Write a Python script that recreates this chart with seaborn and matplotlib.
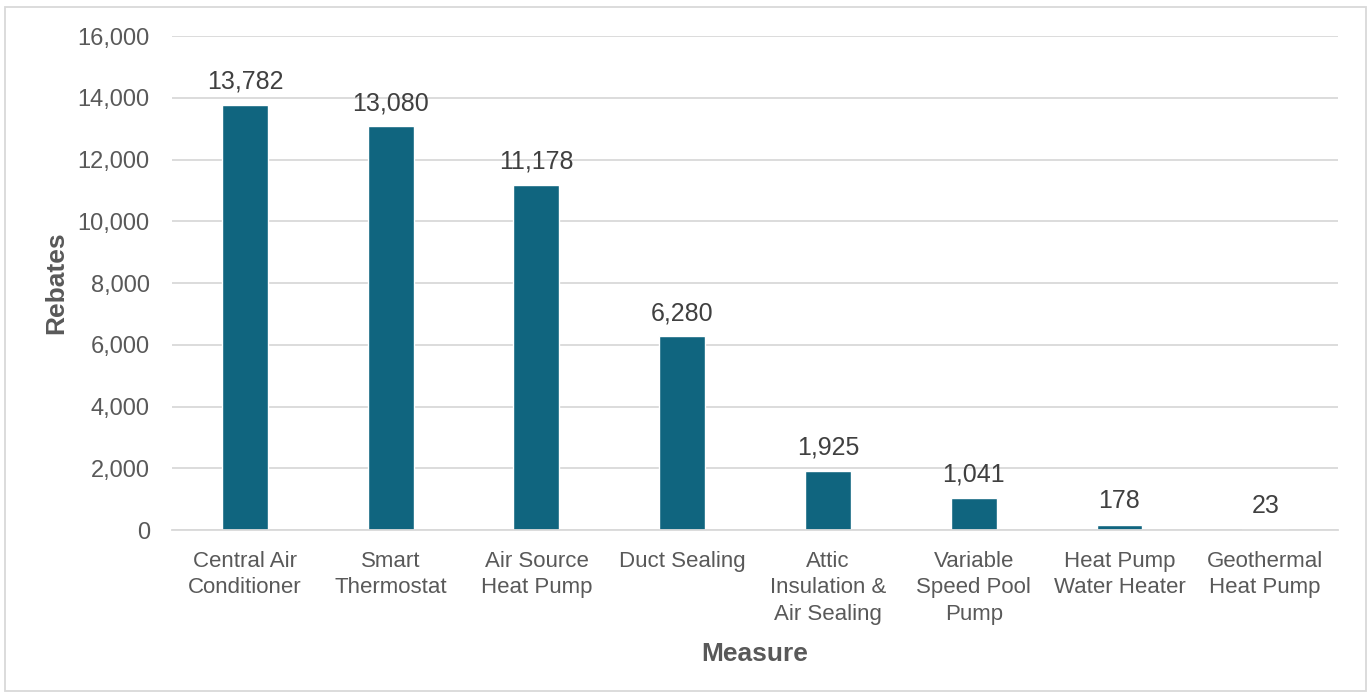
import matplotlib
matplotlib.use("Agg")
import matplotlib.pyplot as plt
import seaborn as sns
import pandas as pd
from matplotlib.patches import Rectangle
from matplotlib.ticker import FuncFormatter

measures = [
    "Central Air\nConditioner",
    "Smart\nThermostat",
    "Air Source\nHeat Pump",
    "Duct Sealing",
    "Attic\nInsulation &\nAir Sealing",
    "Variable\nSpeed Pool\nPump",
    "Heat Pump\nWater Heater",
    "Geothermal\nHeat Pump",
]
rebates = [13782, 13080, 11178, 6280, 1925, 1041, 178, 23]

df = pd.DataFrame({"Measure": measures, "Rebates": rebates})

sns.set_theme(style="whitegrid")
plt.rcParams["font.family"] = ["Liberation Sans", "DejaVu Sans"]

text_col = "#595959"
bar_col = "#10657f"

fig = plt.figure(figsize=(13.71, 6.94), dpi=100)
ax = fig.add_axes([0.1255, 0.2363, 0.8505, 0.7117])

sns.barplot(data=df, x="Measure", y="Rebates", color=bar_col, width=0.315,
            saturation=1, ax=ax)

ax.set_ylim(0, 16000)
ax.set_yticks(range(0, 16001, 2000))
ax.yaxis.set_major_formatter(FuncFormatter(lambda v, p: f"{int(v):,}"))
ax.set_xlim(-0.5, len(measures) - 0.5)

ax.grid(axis="y", color="#d9d9d9", linewidth=1.3)
ax.grid(axis="x", visible=False)
ax.set_axisbelow(True)
for s in ["top", "right", "left"]:
    ax.spines[s].set_visible(False)
ax.spines["bottom"].set_color("#d9d9d9")
ax.spines["bottom"].set_linewidth(1.3)

ax.tick_params(axis="x", length=0, labelsize=16, colors=text_col, pad=15)
ax.tick_params(axis="y", length=0, labelsize=17, colors=text_col, pad=16)
for lbl in ax.get_xticklabels():
    lbl.set_linespacing(1.35)

ax.bar_label(ax.containers[0], labels=[f"{v:,}" for v in rebates],
             padding=8, fontsize=18, color="#404040")

ax.set_xlabel("Measure", fontsize=19, fontweight="bold", color=text_col, labelpad=12)
ax.set_ylabel("Rebates", fontsize=19, fontweight="bold", color=text_col, labelpad=7)

fig.patches.append(Rectangle((0.004, 0.004), 0.992, 0.986, transform=fig.transFigure,
                             fill=False, edgecolor="#d9d9d9", linewidth=1.3))

fig.savefig("out.png", dpi=100)
